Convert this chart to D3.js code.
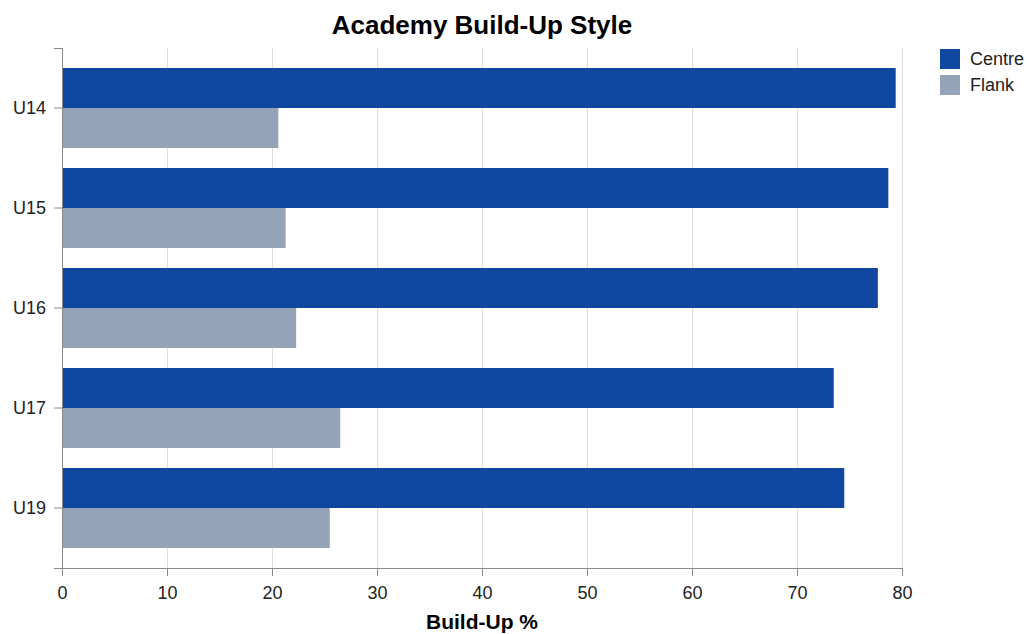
<!DOCTYPE html>
<html lang="en">
<head>
  <meta charset="UTF-8">
  <title>Academy Build-Up Style</title>
  <script src="https://d3js.org/d3.v7.min.js"></script>
  <style>
    body {
      margin: 0;
      background: #fff;
      font-family: "Liberation Sans", Arial, Helvetica, sans-serif;
    }
    .grid line { stroke: #ddd; stroke-width: 1; }
    .axis path, .axis line { stroke: #888; }
  </style>
</head>
<body>
  <svg class="chart" width="1030" height="634"></svg>
  <script>
    const groups = ["U14", "U15", "U16", "U17", "U19"];
    const series = ["Centre", "Flank"];
    const centreValues = [79.4, 78.7, 77.7, 73.5, 74.5];
    const flankValues = [20.6, 21.3, 22.3, 26.5, 25.5];
    const xTicks = [0, 10, 20, 30, 40, 50, 60, 70, 80];
    const colors = ["#0f47a1", "#94a3b8"];

    const data = groups.flatMap((g, i) => [
      { group: g, series: "Centre", value: centreValues[i] },
      { group: g, series: "Flank", value: flankValues[i] }
    ]);

    const margin = { top: 48, right: 128, bottom: 66, left: 62 };
    const width = 1030 - margin.left - margin.right;
    const height = 634 - margin.top - margin.bottom;

    const svg = d3.select(".chart");
    const g = svg.append("g").attr("transform", `translate(${margin.left},${margin.top})`);

    const x = d3.scaleLinear().domain([0, 80]).range([0, 840]);
    const y = d3.scaleBand().domain(groups).range([0, height]).paddingInner(0.2).paddingOuter(0.2);
    const yInner = d3.scaleBand().domain(series).range([0, y.bandwidth()]);
    const color = d3.scaleOrdinal().domain(series).range(colors);

    // grid
    g.append("g").attr("class", "grid")
      .selectAll("line").data(xTicks).enter().append("line")
      .attr("x1", d => x(d) + 0.5).attr("x2", d => x(d) + 0.5)
      .attr("y1", 0).attr("y2", height);

    // bars
    g.selectAll(".bar").data(data).enter().append("rect")
      .attr("class", "bar")
      .attr("x", x(0))
      .attr("y", d => y(d.group) + yInner(d.series))
      .attr("width", d => x(d.value) - x(0))
      .attr("height", yInner.bandwidth())
      .attr("fill", d => color(d.series));

    // axes
    const xAxis = g.append("g").attr("class", "axis")
      .attr("transform", `translate(0,${height})`)
      .call(d3.axisBottom(x).tickValues(xTicks).tickSizeOuter(0).tickSize(8).tickPadding(10));
    xAxis.selectAll("text").style("font-size", "18px").style("fill", "#222").attr("dy", "0.71em");

    const yAxis = g.append("g").attr("class", "axis")
      .call(d3.axisLeft(y).tickSizeOuter(0).tickSize(8).tickPadding(8));
    yAxis.selectAll("text").style("font-size", "18px").style("fill", "#222");

    // title
    svg.append("text")
      .attr("x", margin.left + 420).attr("y", 34)
      .attr("text-anchor", "middle")
      .style("font-size", "26px").style("font-weight", "bold")
      .text("Academy Build-Up Style");

    // x axis title
    svg.append("text")
      .attr("x", margin.left + 420).attr("y", 629)
      .attr("text-anchor", "middle")
      .style("font-size", "21px").style("font-weight", "bold")
      .text("Build-Up %");

    // legend
    const legend = svg.append("g").attr("transform", "translate(940,49)");
    const items = legend.selectAll("g").data(series).enter().append("g")
      .attr("transform", (d, i) => `translate(0,${i * 26})`);
    items.append("rect").attr("width", 20).attr("height", 20).attr("fill", d => color(d));
    items.append("text").attr("x", 30).attr("y", 16)
      .style("font-size", "18px").style("fill", "#222")
      .text(d => d);
  </script>
</body>
</html>
